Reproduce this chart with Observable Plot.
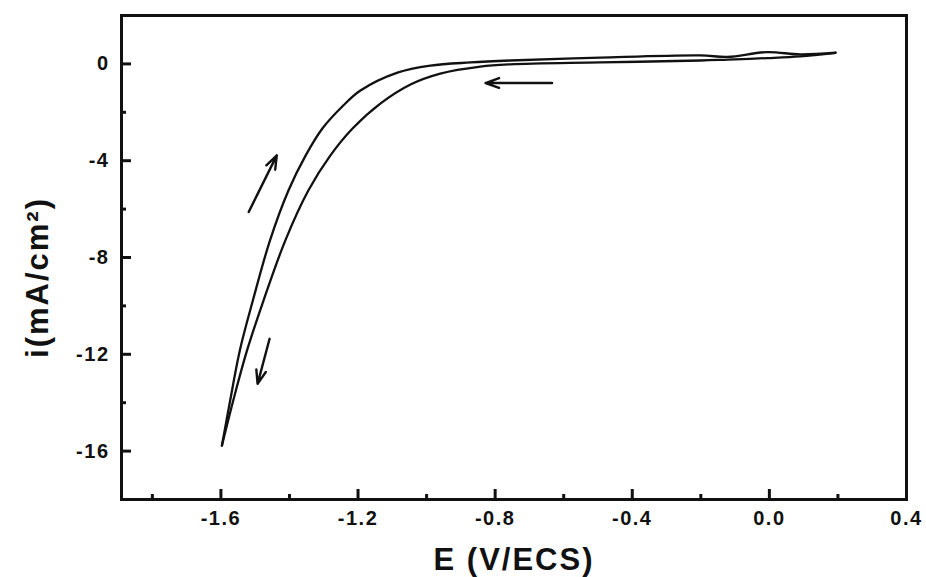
<!DOCTYPE html>
<html>
<head>
<meta charset="utf-8">
<script src="https://cdn.jsdelivr.net/npm/d3@7"></script>
<script src="https://cdn.jsdelivr.net/npm/@observablehq/plot@0.6"></script>
<style>
  html, body { margin: 0; padding: 0; background: #fff; }
  #chart svg { display: block; }
</style>
</head>
<body>
<div id="chart"></div>
<script>
// Forward (cathodic) scan: from +0.2 V down to -1.6 V (inner / lower branch)
const forwardE = [0.193, 0.090, -0.006, -0.122, -0.201, -0.493, -0.756, -0.843, -0.960, -1.047, -1.135, -1.216, -1.281, -1.345, -1.412, -1.476, -1.524, -1.564, -1.597];
const forwardI = [0.46, 0.31, 0.24, 0.18, 0.14, 0.06, -0.02, -0.11, -0.40, -0.85, -1.64, -2.67, -3.79, -5.23, -7.29, -9.79, -11.85, -13.91, -15.77];
// Reverse scan: from -1.6 V back to +0.2 V (outer / upper branch)
const reverseE = [-1.597, -1.573, -1.545, -1.507, -1.457, -1.403, -1.353, -1.304, -1.243, -1.193, -1.085, -0.989, -0.872, -0.756, -0.493, -0.201, -0.122, -0.006, 0.090, 0.193];
const reverseI = [-15.77, -13.91, -11.85, -9.79, -7.30, -5.23, -3.79, -2.67, -1.72, -1.10, -0.36, -0.07, 0.06, 0.14, 0.26, 0.35, 0.29, 0.49, 0.39, 0.46];

// Scan-direction arrows (start E, start i, end E, end i)
const arrowE1 = [-0.634, -1.519, -1.458];
const arrowI1 = [-0.79, -6.12, -11.36];
const arrowE2 = [-0.828, -1.437, -1.493];
const arrowI2 = [-0.79, -3.78, -13.22];

// Axis ticks and labels
const xMajorTicks = [-1.6, -1.2, -0.8, -0.4, 0.0, 0.4];
const xMinorTicks = [-1.8, -1.4, -1.0, -0.6, -0.2, 0.2];
const yMajorTicks = [0, -4, -8, -12, -16];
const yMinorTicks = [-2, -6, -10, -14];
const xTitle = "E (V/ECS)";
const yTitle = "i(mA/cm²)";

const forward = forwardE.map((e, k) => ({E: e, i: forwardI[k]}));
const reverse = reverseE.map((e, k) => ({E: e, i: reverseI[k]}));
const arrows = arrowE1.map((e, k) => ({x1: e, y1: arrowI1[k], x2: arrowE2[k], y2: arrowI2[k]}));

const ink = "#111";
const fmtX = d => d3.format(".1f")(d).replace("\u2212", "-");

const chart = Plot.plot({
  width: 926,
  height: 577,
  marginLeft: 121,
  marginRight: 20,
  marginTop: 15,
  marginBottom: 78,
  style: {fontFamily: "'Liberation Sans', Arial, sans-serif", fontWeight: "bold", fontSize: "20px", color: ink, background: "#fff"},
  x: {domain: [-1.89, 0.4]},
  y: {domain: [-18, 2]},
  marks: [
    // ticks pointing inward
    Plot.axisX(xMajorTicks, {tickSize: -10, strokeWidth: 3, tickFormat: () => "", label: null}),
    Plot.axisX(xMinorTicks, {tickSize: -5, strokeWidth: 3, tickFormat: () => "", label: null}),
    Plot.axisY(yMajorTicks, {tickSize: -10, strokeWidth: 3, tickFormat: () => "", label: null}),
    Plot.axisY(yMinorTicks, {tickSize: -5, strokeWidth: 3, tickFormat: () => "", label: null}),
    // tick labels
    Plot.axisX(xMajorTicks, {tickSize: 0, tickPadding: 11, tickFormat: fmtX, label: null, fontSize: 20, fontWeight: "bold"}),
    Plot.axisY(yMajorTicks, {tickSize: 0, tickPadding: 12, tickFormat: d => String(d), label: null, fontSize: 20, fontWeight: "bold"}),
    Plot.frame({stroke: ink, strokeWidth: 3}),
    Plot.line(forward, {x: "E", y: "i", stroke: ink, strokeWidth: 2.3, curve: "catmull-rom"}),
    Plot.line(reverse, {x: "E", y: "i", stroke: ink, strokeWidth: 2.3, curve: "catmull-rom"}),
    Plot.arrow(arrows, {x1: "x1", y1: "y1", x2: "x2", y2: "y2", stroke: ink, strokeWidth: 2.4, headLength: 9, headAngle: 40}),
    // axis titles
    Plot.text([xTitle], {frameAnchor: "bottom", dy: 61, lineAnchor: "middle", textAnchor: "middle", text: d => d, fontSize: 31, fontWeight: "bold", fill: ink}),
    Plot.text([yTitle], {frameAnchor: "left", dx: -83, dy: 20, rotate: -90, lineAnchor: "middle", textAnchor: "middle", text: d => d, fontSize: 31, fontWeight: "bold", fill: ink})
  ]
});

// wide-set lettering like the reference
d3.select(chart).selectAll("[aria-label='x-axis tick label'] text, [aria-label='y-axis tick label'] text").style("letter-spacing", "1.5px");
d3.select(chart).selectAll("[aria-label='text'] text").style("letter-spacing", "2px");

document.getElementById("chart").appendChild(chart);
</script>
</body>
</html>
